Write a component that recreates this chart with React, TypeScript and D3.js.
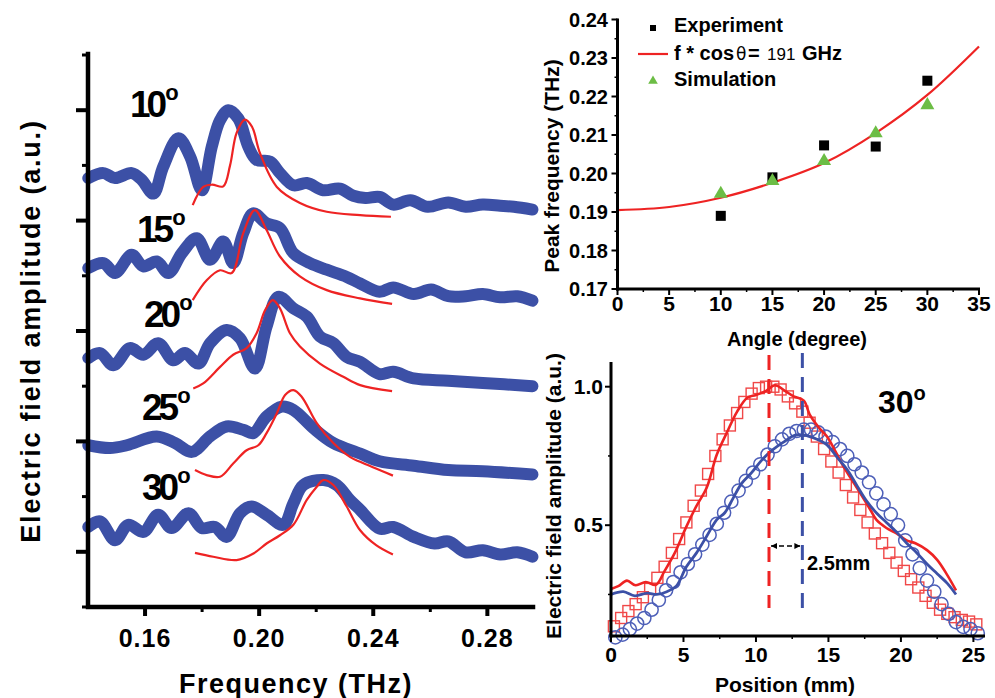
import React from 'react';
import * as d3 from 'd3';

const FONT = '"Liberation Sans", Arial, Helvetica, sans-serif';
const BLUE = '#3c50a6';
const RED = '#ee2323';
const GREEN = '#6cbd45';

type P = [number, number];

// ---------- Left panel: spectra ----------
const freqMajor = [0.16, 0.2, 0.24, 0.28];
const freqLabels = ['0.16', '0.20', '0.24', '0.28'];
const freqMinor = [0.18, 0.22, 0.26];
const ampMajor = [1, 3, 5, 7, 9];
const ampMinor = [0, 2, 4, 6, 8, 10];
const angleNames = ['10', '15', '20', '25', '30'];

const blue10: P[] = [[0.1401,7.77],[0.1454,7.86],[0.1495,7.77],[0.1553,7.86],[0.1588,7.74],[0.1629,7.49],[0.1664,7.98],[0.1717,8.49],[0.1758,8.16],[0.1799,7.55],[0.1834,8.34],[0.1863,8.82],[0.1892,9.0],[0.1927,8.85],[0.1962,8.34],[0.1991,8.10],[0.2038,8.07],[0.2073,7.86],[0.212,7.64],[0.2167,7.68],[0.2225,7.55],[0.2283,7.58],[0.233,7.45],[0.2373,7.41],[0.2422,7.43],[0.247,7.29],[0.253,7.37],[0.2591,7.25],[0.2663,7.33],[0.2724,7.25],[0.2784,7.29],[0.2845,7.27],[0.2893,7.25],[0.2958,7.2]];
const red10: P[] = [[0.1767,7.28],[0.1804,7.61],[0.1835,7.65],[0.1874,7.62],[0.1898,8.0],[0.1921,8.59],[0.195,8.83],[0.1975,8.70],[0.2003,8.22],[0.2062,7.61],[0.2143,7.32],[0.2237,7.16],[0.2354,7.10],[0.2462,7.07]];
const blue15: P[] = [[0.1401,6.14],[0.1454,6.23],[0.1495,6.05],[0.1553,6.38],[0.1594,6.17],[0.1641,6.26],[0.1682,6.05],[0.1729,6.41],[0.1781,6.68],[0.1828,6.29],[0.1874,6.62],[0.1909,6.23],[0.1944,6.77],[0.1979,7.13],[0.2026,6.95],[0.2073,6.86],[0.212,6.41],[0.2178,6.23],[0.2237,6.11],[0.2307,5.98],[0.2354,5.86],[0.2422,5.71],[0.247,5.79],[0.2542,5.67],[0.2603,5.75],[0.2663,5.63],[0.2724,5.63],[0.2784,5.67],[0.2845,5.61],[0.2905,5.63],[0.2958,5.55]];
const red15: P[] = [[0.1767,5.56],[0.1816,5.92],[0.1863,6.10],[0.1904,6.05],[0.1944,6.77],[0.1985,7.19],[0.2026,6.83],[0.2073,6.35],[0.2143,5.99],[0.2237,5.74],[0.2354,5.59],[0.2466,5.49]];
const blue20: P[] = [[0.1401,4.51],[0.1442,4.60],[0.1489,4.38],[0.1547,4.69],[0.1594,4.57],[0.1646,4.78],[0.1699,4.47],[0.174,4.60],[0.1787,4.41],[0.1828,4.78],[0.1886,5.02],[0.1933,4.87],[0.1985,4.32],[0.2026,5.08],[0.2067,5.62],[0.212,5.41],[0.2167,5.26],[0.2213,4.90],[0.226,4.78],[0.2307,4.53],[0.2354,4.44],[0.2422,4.22],[0.247,4.26],[0.2542,4.14],[0.2663,4.10],[0.2784,4.06],[0.2958,4.0]];
const red20: P[] = [[0.1769,3.96],[0.1804,4.05],[0.1863,4.35],[0.1909,4.57],[0.1956,4.69],[0.1991,4.96],[0.2021,5.38],[0.2048,5.56],[0.2073,5.41],[0.2108,4.96],[0.2143,4.72],[0.2213,4.41],[0.2295,4.17],[0.2354,4.02],[0.2466,3.91]];
const blue25: P[] = [[0.1401,2.93],[0.1477,2.88],[0.1536,2.93],[0.1641,3.09],[0.1705,2.97],[0.1764,2.81],[0.1828,3.09],[0.1886,3.27],[0.1944,3.21],[0.1979,3.15],[0.2026,3.45],[0.2079,3.63],[0.212,3.57],[0.219,3.24],[0.226,2.97],[0.2354,2.78],[0.2422,2.64],[0.2542,2.56],[0.2663,2.48],[0.2784,2.46],[0.2958,2.40]];
const red25: P[] = [[0.1775,2.48],[0.1816,2.39],[0.1863,2.36],[0.1909,2.60],[0.1956,2.84],[0.1997,2.93],[0.2026,3.15],[0.2062,3.51],[0.2091,3.84],[0.212,3.93],[0.2149,3.81],[0.2202,3.33],[0.226,2.97],[0.2318,2.72],[0.2354,2.63],[0.2469,2.38]];
const blue30: P[] = [[0.1401,1.45],[0.1442,1.55],[0.1495,1.21],[0.1541,1.49],[0.1594,1.36],[0.1646,1.67],[0.1693,1.43],[0.1752,1.70],[0.1799,1.43],[0.1845,1.45],[0.1886,1.27],[0.1933,1.70],[0.1974,1.82],[0.2026,1.67],[0.2085,1.49],[0.212,1.88],[0.2155,2.21],[0.2225,2.30],[0.2272,2.21],[0.2318,1.94],[0.2354,1.76],[0.2422,1.42],[0.247,1.45],[0.2542,1.27],[0.2615,1.15],[0.2663,1.19],[0.2724,0.99],[0.2784,1.03],[0.2845,0.95],[0.2905,0.99],[0.2958,0.91]];
const red30: P[] = [[0.1775,0.98],[0.1839,0.91],[0.1921,0.85],[0.198,0.97],[0.2026,1.15],[0.2073,1.30],[0.212,1.49],[0.2167,1.94],[0.2202,2.18],[0.2225,2.30],[0.226,2.21],[0.2307,1.82],[0.2354,1.39],[0.241,1.12],[0.2469,0.95]];

const blueSeries = [blue10, blue15, blue20, blue25, blue30];
const redSeries = [red10, red15, red20, red25, red30];

// ---------- Top-right: peak frequency vs angle ----------
const angleTicks = [0, 5, 10, 15, 20, 25, 30, 35];
const angleMinor = [2.5, 7.5, 12.5, 17.5, 22.5, 27.5, 32.5];
const peakTicks = [0.17, 0.18, 0.19, 0.2, 0.21, 0.22, 0.23, 0.24];
const peakLabels = ['0.17', '0.18', '0.19', '0.20', '0.21', '0.22', '0.23', '0.24'];
const peakMinor = [0.175, 0.185, 0.195, 0.205, 0.215, 0.225, 0.235];
const expAngles = [10, 15, 20, 25, 30];
const expPeak = [0.189, 0.199, 0.2073, 0.207, 0.2241];
const simAngles = [10, 15, 20, 25, 30];
const simPeak = [0.195, 0.1983, 0.2035, 0.2107, 0.218];
const fitAngles = [0, 5, 10, 15, 20, 25, 30, 35];
const fitPeak = [0.1905, 0.1913, 0.1937, 0.1976, 0.2027, 0.2105, 0.2204, 0.2330];

// ---------- Bottom-right: field profile at 30° ----------
const posTicks = [0, 5, 10, 15, 20, 25];
const posMinor = [2.5, 7.5, 12.5, 17.5, 22.5];
const fieldTicks = [0.5, 1.0];
const fieldLabels = ['0.5', '1.0'];
const fieldMinor = [0.25, 0.75];

const sqPos = [0.2,0.7,1.2,1.7,2.2,2.7,3.2,3.7,4.2,4.7,5.2,5.7,6.2,6.7,7.2,7.7,8.2,8.7,9.2,9.7,10.2,10.7,11.2,11.7,12.2,12.7,13.2,13.7,14.2,14.7,15.2,15.7,16.2,16.7,17.2,17.7,18.2,18.7,19.2,19.7,20.2,20.7,21.2,21.7,22.2,22.7,23.2,23.7,24.2,24.7,25.2];
const sqVal = [0.135,0.165,0.19,0.215,0.24,0.27,0.31,0.35,0.40,0.45,0.51,0.57,0.625,0.685,0.75,0.81,0.86,0.905,0.945,0.975,0.995,1.0,1.0,0.99,0.965,0.94,0.91,0.87,0.82,0.775,0.73,0.69,0.645,0.60,0.555,0.51,0.47,0.435,0.40,0.365,0.335,0.305,0.275,0.245,0.22,0.195,0.18,0.168,0.158,0.152,0.142];
const ciPos = [0.3,0.8,1.3,1.8,2.3,2.8,3.3,3.8,4.3,4.8,5.3,5.8,6.3,6.8,7.3,7.8,8.3,8.8,9.3,9.8,10.3,10.8,11.3,11.8,12.3,12.8,13.3,13.8,14.3,14.8,15.3,15.8,16.3,16.8,17.3,17.8,18.3,18.8,19.3,19.8,20.3,20.8,21.3,21.8,22.3,22.8,23.3,23.8,24.3,24.8,25.3];
const ciVal = [0.095,0.105,0.125,0.145,0.165,0.195,0.23,0.265,0.295,0.33,0.36,0.395,0.43,0.465,0.505,0.545,0.585,0.625,0.66,0.69,0.72,0.755,0.785,0.81,0.83,0.84,0.845,0.845,0.835,0.82,0.80,0.775,0.75,0.72,0.69,0.655,0.615,0.575,0.54,0.5,0.445,0.395,0.345,0.30,0.26,0.215,0.18,0.15,0.133,0.125,0.11];
const redLine: P[] = [[0,0.27],[0.5,0.28],[1.1,0.3],[1.7,0.283],[2.4,0.295],[3.1,0.285],[3.7,0.335],[4.4,0.40],[5.2,0.495],[5.9,0.57],[6.6,0.635],[7.3,0.755],[8.0,0.835],[8.7,0.91],[9.4,0.96],[10.0,0.97],[10.7,0.985],[11.3,1.005],[12.0,0.985],[12.6,0.965],[13.3,0.95],[13.7,0.9],[14.3,0.855],[14.9,0.82],[15.4,0.775],[16.0,0.715],[16.6,0.665],[17.2,0.615],[17.9,0.555],[18.3,0.52],[19.0,0.49],[19.7,0.47],[20.4,0.445],[21.0,0.435],[21.8,0.41],[22.5,0.375],[23.2,0.32],[23.8,0.265]];
const blueLine: P[] = [[0,0.25],[0.85,0.26],[1.65,0.245],[2.5,0.255],[3.15,0.25],[3.85,0.26],[4.5,0.28],[5.2,0.35],[5.9,0.40],[6.6,0.46],[7.3,0.52],[7.85,0.545],[8.4,0.595],[9.0,0.65],[9.7,0.69],[10.4,0.735],[11.1,0.77],[11.9,0.80],[12.7,0.825],[13.3,0.825],[14.2,0.81],[14.9,0.79],[15.6,0.745],[16.3,0.70],[17.0,0.64],[17.6,0.59],[18.3,0.545],[19.0,0.51],[19.7,0.475],[20.4,0.435],[21.1,0.40],[21.8,0.36],[22.5,0.325],[23.2,0.29],[23.8,0.25]];
const peakRedPos = 10.9;
const peakBluePos = 13.2;

export default function App() {
  // left panel scales
  const xL = d3.scaleLinear().domain([0.14, 0.296]).range([88, 533]);
  const yL = d3.scaleLinear().domain([0, 10]).range([607, 55]);
  const lineL = d3.line<P>().x(d => xL(d[0])).y(d => yL(d[1])).curve(d3.curveCatmullRom.alpha(0.5));
  const L0 = xL(0.14);
  const L1 = xL(0.296);
  const B0 = yL(0);
  const T0 = yL(10);
  const axisPathL = `M${L0},${T0 - 1}L${L0},${B0}L${L1},${B0}`;

  // top-right scales
  const xA = d3.scaleLinear().domain([0, 35]).range([617.5, 979]);
  const yA = d3.scaleLinear().domain([0.17, 0.24]).range([289, 19.5]);
  const fitLine = d3.line<number>().x((_, i) => xA(fitAngles[i])).y(d => yA(d)).curve(d3.curveMonotoneX);

  // bottom-right scales
  const xP = d3.scaleLinear().domain([0, 25.8]).range([611, 985]);
  const yP = d3.scaleLinear().domain([0.1, 1.1]).range([636, 359]);
  const lineP = d3.line<P>().x(d => xP(d[0])).y(d => yP(d[1])).curve(d3.curveCatmullRom.alpha(0.5));

  const labelSpots = [[130, 117], [137, 242], [144, 327], [142, 420], [142, 500]];

  const tri = d3.symbol().type(d3.symbolTriangle).size(85)();
  const triLeg = d3.symbol().type(d3.symbolTriangle).size(40)();

  return (
    <svg width={995} height={698} viewBox="0 0 995 698"
      style={{ position: 'absolute', left: 0, top: 0, display: 'block', background: '#fff' }}
      fontFamily={FONT}>
      <rect x={0} y={0} width={995} height={698} fill="#fff" />

      {/* ================= LEFT PANEL ================= */}
      <g>
        {blueSeries.map((s, i) => (
          <path key={'b' + i} d={lineL(s) || ''} fill="none" stroke={BLUE} strokeWidth={12}
            strokeLinejoin="round" strokeLinecap="round" />
        ))}
        {redSeries.map((s, i) => (
          <path key={'r' + i} d={lineL(s) || ''} fill="none" stroke={RED} strokeWidth={2.2}
            strokeLinejoin="round" />
        ))}
        {angleNames.map((a, i) => (
          <text key={'al' + i} x={labelSpots[i][0]} y={labelSpots[i][1]} fontSize={37}
            fontWeight="bold" letterSpacing={-4} fill="#000">
            {a}
            <tspan dy={-17} fontSize={22} letterSpacing={0} dx={2}>o</tspan>
          </text>
        ))}
        {ampMajor.map(v => (
          <path key={'am' + v} d={`M${L0 - 12},${yL(v)}H${L0}`} stroke="#000" strokeWidth={4} />
        ))}
        {ampMinor.map(v => (
          <path key={'an' + v} d={`M${L0 - 6},${yL(v)}H${L0}`} stroke="#000" strokeWidth={3} />
        ))}
        {freqMajor.map(v => (
          <path key={'fm' + v} d={`M${xL(v)},${B0}V${B0 + 9}`} stroke="#000" strokeWidth={4} />
        ))}
        {freqMinor.map(v => (
          <path key={'fn' + v} d={`M${xL(v)},${B0}V${B0 + 5}`} stroke="#000" strokeWidth={3} />
        ))}
        {freqMajor.map((v, i) => (
          <text key={'fl' + v} x={xL(v)} y={647} textAnchor="middle" fontSize={25} fontWeight="bold" letterSpacing={1}>
            {freqLabels[i]}
          </text>
        ))}
        <text x={296} y={693} textAnchor="middle" fontSize={27} fontWeight="bold" letterSpacing={1.5}>
          Frequency (THz)
        </text>
        <text transform={`translate(40, 331) rotate(-90)`} textAnchor="middle" fontSize={27} fontWeight="bold" letterSpacing={1.8}>
          Electric field amplitude (a.u.)
        </text>
        <path d={axisPathL} fill="none" stroke="#000" strokeWidth={4.5} strokeLinecap="square" />
      </g>

      {/* ================= TOP-RIGHT PANEL ================= */}
      <g>
        <path d={fitLine(fitPeak) || ''} fill="none" stroke={RED} strokeWidth={2.2} />
        {expAngles.map((a, i) => (
          <rect key={'ex' + i} x={xA(a) - 5} y={yA(expPeak[i]) - 5} width={10} height={10} fill="#000" />
        ))}
        {simAngles.map((a, i) => (
          <path key={'sm' + i} d={tri || ''} transform={`translate(${xA(a)},${yA(simPeak[i]) + 1})`} fill={GREEN} />
        ))}
        <line x1={xA(0)} x2={xA(0)} y1={yA(0.24) - 1} y2={yA(0.17) + 1.5} stroke="#000" strokeWidth={3} />
        <line x1={xA(0) - 1.5} x2={xA(35) + 1} y1={yA(0.17)} y2={yA(0.17)} stroke="#000" strokeWidth={3} />
        {peakTicks.map(v => (
          <line key={'pt' + v} x1={xA(0) - 6} x2={xA(0)} y1={yA(v)} y2={yA(v)} stroke="#000" strokeWidth={2} />
        ))}
        {peakMinor.map(v => (
          <line key={'pn' + v} x1={xA(0) - 3} x2={xA(0) + 1} y1={yA(v)} y2={yA(v)} stroke="#000" strokeWidth={1.5} />
        ))}
        {angleTicks.map(v => (
          <line key={'at' + v} x1={xA(v)} x2={xA(v)} y1={yA(0.17)} y2={yA(0.17) + 6} stroke="#000" strokeWidth={2} />
        ))}
        {angleMinor.map(v => (
          <line key={'am2' + v} x1={xA(v)} x2={xA(v)} y1={yA(0.17) - 1} y2={yA(0.17) + 3} stroke="#000" strokeWidth={1.5} />
        ))}
        {peakTicks.map((v, i) => (
          <text key={'pl' + v} x={608} y={yA(v) + 7} textAnchor="end" fontSize={20} fontWeight="bold">{peakLabels[i]}</text>
        ))}
        {angleTicks.map(v => (
          <text key={'al2' + v} x={xA(v)} y={311} textAnchor="middle" fontSize={21} fontWeight="bold">{v}</text>
        ))}
        <text x={797} y={346} textAnchor="middle" fontSize={20} fontWeight="bold">Angle (degree)</text>
        <text transform={`translate(559, 166) rotate(-90)`} textAnchor="middle" fontSize={21} fontWeight="bold">Peak frequency (THz)</text>
        {/* legend */}
        <rect x={650} y={25} width={6} height={6} fill="#000" />
        <text x={674} y={32} fontSize={20} fontWeight="bold">Experiment</text>
        <line x1={638} x2={668} y1={54} y2={54} stroke={RED} strokeWidth={2.2} />
        <text x={674} y={60} fontSize={20} fontWeight="bold">f * cos</text>
        <text x={736} y={60} fontSize={17} fontFamily='"DejaVu Sans", sans-serif'>θ</text>
        <text x={748} y={60} fontSize={20} fontWeight="900">=</text>
        <text x={767} y={60} fontSize={17}>191</text>
        <text x={802} y={60} fontSize={20} fontWeight="bold">GHz</text>
        <path d={triLeg || ''} transform="translate(653,81)" fill={GREEN} />
        <text x={674} y={86} fontSize={20} fontWeight="bold">Simulation</text>
      </g>

      {/* ================= BOTTOM-RIGHT PANEL ================= */}
      <g>
        {sqPos.map((p, i) => (
          <rect key={'sq' + i} x={xP(p) - 5.5} y={yP(sqVal[i]) - 5.5} width={11} height={11}
            fill="none" stroke="#f04848" strokeWidth={1.4} />
        ))}
        {ciPos.map((p, i) => (
          <circle key={'ci' + i} cx={xP(p)} cy={yP(ciVal[i])} r={6.6}
            fill="none" stroke="#4d5fb8" strokeWidth={1.5} />
        ))}
        <path d={lineP(redLine) || ''} fill="none" stroke={RED} strokeWidth={2.6} />
        <path d={lineP(blueLine) || ''} fill="none" stroke={BLUE} strokeWidth={2.8} />
        <line x1={xP(peakRedPos)} x2={xP(peakRedPos)} y1={355} y2={608} stroke={RED} strokeWidth={3} strokeDasharray="15 9" />
        <line x1={xP(peakBluePos)} x2={xP(peakBluePos)} y1={353} y2={608} stroke={BLUE} strokeWidth={3} strokeDasharray="15 9" />
        {/* arrow */}
        <line x1={xP(peakRedPos) + 2} x2={xP(peakBluePos) - 2} y1={546} y2={546} stroke="#000" strokeWidth={1.3} strokeDasharray="5 3" />
        <path d={`M${xP(peakRedPos) + 2},546 l6,-3 l0,6 z`} fill="#000" />
        <path d={`M${xP(peakBluePos) - 2},546 l-6,-3 l0,6 z`} fill="#000" />
        <text x={807} y={570} fontSize={20} fontWeight="bold">2.5mm</text>
        <text x={878} y={413} fontSize={32} fontWeight="bold">
          30<tspan dy={-13} fontSize={20}>o</tspan>
        </text>
        {/* axes */}
        <line x1={xP(0)} x2={xP(0)} y1={362} y2={yP(0.1) + 1.5} stroke="#000" strokeWidth={3} />
        <line x1={xP(0) - 1.5} x2={xP(25.8)} y1={yP(0.1)} y2={yP(0.1)} stroke="#000" strokeWidth={3} />
        {fieldTicks.map(v => (
          <line key={'ft' + v} x1={xP(0) - 6} x2={xP(0)} y1={yP(v)} y2={yP(v)} stroke="#000" strokeWidth={2} />
        ))}
        {fieldMinor.map(v => (
          <line key={'fn2' + v} x1={xP(0) - 3} x2={xP(0)} y1={yP(v)} y2={yP(v)} stroke="#000" strokeWidth={1.5} />
        ))}
        {posTicks.map(v => (
          <line key={'pt2' + v} x1={xP(v)} x2={xP(v)} y1={yP(0.1)} y2={yP(0.1) + 6} stroke="#000" strokeWidth={2} />
        ))}
        {posMinor.map(v => (
          <line key={'pm2' + v} x1={xP(v)} x2={xP(v)} y1={yP(0.1)} y2={yP(0.1) + 3} stroke="#000" strokeWidth={1.5} />
        ))}
        {fieldTicks.map((v, i) => (
          <text key={'fl2' + v} x={603} y={yP(v) + 7} textAnchor="end" fontSize={21} fontWeight="bold">{fieldLabels[i]}</text>
        ))}
        {posTicks.map(v => (
          <text key={'pl2' + v} x={xP(v)} y={662} textAnchor="middle" fontSize={21} fontWeight="bold">{v}</text>
        ))}
        <text x={785} y={692} textAnchor="middle" fontSize={21} fontWeight="bold">Position (mm)</text>
        <text transform={`translate(561, 496) rotate(-90)`} textAnchor="middle" fontSize={21} fontWeight="bold">Electric field amplitude (a.u.)</text>
      </g>
    </svg>
  );
}
